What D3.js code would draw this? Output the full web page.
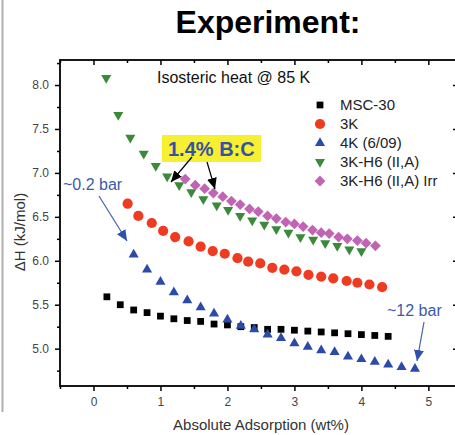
<!DOCTYPE html>
<html>
<head>
<meta charset="utf-8">
<script src="https://cdn.jsdelivr.net/npm/d3@7"></script>
<style>
  body { margin: 0; background: #fff; }
  text { font-family: "Liberation Sans", Arial, sans-serif; }
</style>
</head>
<body>
<script>
// series values (x = wt%, y = kJ/mol)
const msc30X = [0.2, 0.4, 0.6, 0.8, 1.0, 1.2, 1.4, 1.6, 1.8, 2.0, 2.2, 2.4, 2.6, 2.8, 3.0, 3.2, 3.4, 3.6, 3.8, 4.0, 4.2, 4.4];
const msc30Y = [5.59, 5.50, 5.44, 5.41, 5.37, 5.34, 5.32, 5.31, 5.28, 5.27, 5.25, 5.24, 5.22, 5.22, 5.21, 5.20, 5.19, 5.18, 5.17, 5.16, 5.15, 5.14];

const k3X = [0.51, 0.67, 0.87, 1.04, 1.22, 1.42, 1.60, 1.78, 1.96, 2.15, 2.31, 2.49, 2.67, 2.85, 3.03, 3.21, 3.40, 3.58, 3.78, 3.94, 4.12, 4.31];
const k3Y = [6.65, 6.51, 6.43, 6.34, 6.27, 6.22, 6.16, 6.11, 6.08, 6.03, 5.99, 5.97, 5.92, 5.90, 5.88, 5.84, 5.82, 5.80, 5.77, 5.75, 5.73, 5.70];

const k4X = [0.6, 0.8, 1.0, 1.2, 1.4, 1.6, 1.8, 2.0, 2.2, 2.4, 2.6, 2.8, 3.0, 3.2, 3.4, 3.6, 3.8, 4.0, 4.2, 4.4, 4.6, 4.8];
const k4Y = [6.07, 5.90, 5.76, 5.64, 5.55, 5.47, 5.40, 5.33, 5.26, 5.22, 5.16, 5.12, 5.06, 5.02, 4.98, 4.96, 4.91, 4.88, 4.85, 4.82, 4.79, 4.77];

const h6X = [0.19, 0.37, 0.55, 0.75, 0.93, 1.10, 1.28, 1.46, 1.64, 1.84, 2.01, 2.19, 2.37, 2.55, 2.73, 2.91, 3.09, 3.28, 3.46, 3.64, 3.82, 4.00];
const h6Y = [8.08, 7.66, 7.40, 7.22, 7.08, 6.96, 6.86, 6.78, 6.70, 6.63, 6.58, 6.51, 6.46, 6.41, 6.36, 6.32, 6.27, 6.24, 6.20, 6.17, 6.13, 6.11];

const irrX = [1.37, 1.52, 1.66, 1.79, 1.93, 2.06, 2.19, 2.33, 2.46, 2.60, 2.73, 2.87, 3.00, 3.13, 3.27, 3.40, 3.52, 3.66, 3.79, 3.94, 4.07, 4.21];
const irrY = [6.93, 6.86, 6.82, 6.77, 6.73, 6.68, 6.64, 6.59, 6.56, 6.51, 6.48, 6.44, 6.42, 6.39, 6.35, 6.32, 6.31, 6.27, 6.25, 6.23, 6.20, 6.17];

const seriesNames = ["MSC-30", "3K", "4K (6/09)", "3K-H6 (II,A)", "3K-H6 (II,A) Irr"];
const xTicks = [0, 1, 2, 3, 4, 5];
const yTicks = [5.0, 5.5, 6.0, 6.5, 7.0, 7.5, 8.0];

const svgWidth = 455;
const svgHeight = 435;

const svg = d3.select("body")
    .append("svg")
    .attr("width", svgWidth)
    .attr("height", svgHeight);

// slide edge on the left
svg.append("line")
    .attr("x1", 2.5).attr("x2", 2.5)
    .attr("y1", 0).attr("y2", 412)
    .attr("stroke", "#b0b0b0")
    .attr("stroke-width", 2);

// scales
const x = d3.scaleLinear().domain([-0.5, 5.45]).range([60, 458.5]);
const y = d3.scaleLinear().domain([4.575, 8.285]).range([386, 60]);

const xMinor = d3.range(-0.5, 5.5, 0.5).filter(v => xTicks.indexOf(v) < 0);
const yMinor = d3.range(4.75, 8.3, 0.5);

function styleAxis(g) {
    g.select(".domain").remove();
    g.selectAll("line").attr("stroke", "#000").attr("stroke-width", 1.5);
    g.selectAll("text")
        .attr("fill", "#444")
        .attr("font-size", "12px")
        .attr("font-family", "Liberation Sans, Arial, sans-serif");
}

// bottom axis
svg.append("g")
    .attr("transform", "translate(0,386)")
    .call(d3.axisBottom(x).tickValues(xTicks).tickSize(5).tickPadding(6).tickFormat(d3.format("d")))
    .call(styleAxis);
svg.append("g")
    .attr("transform", "translate(0,386)")
    .call(d3.axisBottom(x).tickValues(xMinor).tickSize(3).tickFormat(""))
    .call(styleAxis);

// top axis (inward ticks)
svg.append("g")
    .attr("transform", "translate(0,60)")
    .call(d3.axisTop(x).tickValues(xTicks).tickSize(-5).tickFormat(""))
    .call(styleAxis);
svg.append("g")
    .attr("transform", "translate(0,60)")
    .call(d3.axisTop(x).tickValues(xMinor).tickSize(-3).tickFormat(""))
    .call(styleAxis);

// left axis
svg.append("g")
    .attr("transform", "translate(60,0)")
    .call(d3.axisLeft(y).tickValues(yTicks).tickSize(5).tickPadding(6).tickFormat(d3.format(".1f")))
    .call(styleAxis);
svg.append("g")
    .attr("transform", "translate(60,0)")
    .call(d3.axisLeft(y).tickValues(yMinor).tickSize(3).tickFormat(""))
    .call(styleAxis);

// right axis (inward ticks)
svg.append("g")
    .attr("transform", "translate(458,0)")
    .call(d3.axisRight(y).tickValues(yTicks).tickSize(-5).tickFormat(""))
    .call(styleAxis);

// frame
svg.append("rect")
    .attr("x", 60).attr("y", 60)
    .attr("width", 398).attr("height", 326)
    .attr("fill", "none")
    .attr("stroke", "#000")
    .attr("stroke-width", 1.8);

// series
const series = [
    { xs: msc30X, ys: msc30Y, color: "#000000", symbol: d3.symbolSquare, size: 46, rot: 0 },
    { xs: k3X, ys: k3Y, color: "#ee3b22", symbol: d3.symbolCircle, size: 82, rot: 0 },
    { xs: k4X, ys: k4Y, color: "#2b4aa9", symbol: d3.symbolTriangle, size: 44, rot: 0 },
    { xs: h6X, ys: h6Y, color: "#3a8a3a", symbol: d3.symbolTriangle, size: 44, rot: 180 },
    { xs: irrX, ys: irrY, color: "#c164b4", symbol: d3.symbolSquare, size: 58, rot: 45 }
];

series.forEach(function (s) {
    const pts = s.xs.map((v, i) => ({ x: v, y: s.ys[i] }));
    svg.append("g")
        .selectAll("path")
        .data(pts)
        .enter()
        .append("path")
        .attr("d", d3.symbol().type(s.symbol).size(s.size))
        .attr("transform", d => `translate(${x(d.x)},${y(d.y)}) rotate(${s.rot})`)
        .attr("fill", s.color);
});

// legend
const legend = svg.append("g").attr("transform", "translate(320,105)");
seriesNames.forEach(function (name, i) {
    const s = series[i];
    legend.append("path")
        .attr("d", d3.symbol().type(s.symbol).size(s.size))
        .attr("transform", `translate(0,${i * 19}) rotate(${s.rot})`)
        .attr("fill", s.color);
    legend.append("text")
        .attr("x", 20)
        .attr("y", i * 19)
        .attr("dy", "0.36em")
        .attr("font-size", "15px")
        .attr("fill", "#222")
        .text(name);
});

// titles
svg.append("text")
    .attr("x", 268).attr("y", 33)
    .attr("text-anchor", "middle")
    .attr("font-size", "32px")
    .attr("font-weight", "bold")
    .attr("fill", "#000")
    .text("Experiment:");

svg.append("text")
    .attr("x", 157).attr("y", 83)
    .attr("font-size", "16px")
    .attr("fill", "#111")
    .text("Isosteric heat @ 85 K");

// axis labels
svg.append("text")
    .attr("x", 261).attr("y", 430)
    .attr("text-anchor", "middle")
    .attr("font-size", "15px")
    .attr("fill", "#333")
    .text("Absolute Adsorption (wt%)");

svg.append("text")
    .attr("transform", "translate(25,232) rotate(-90)")
    .attr("text-anchor", "middle")
    .attr("font-size", "15px")
    .attr("fill", "#333")
    .text("ΔH (kJ/mol)");

// arrow heads
const defs = svg.append("defs");
[["headBlack", "#000"], ["headBlue", "#2f50ad"]].forEach(function (m) {
    defs.append("marker")
        .attr("id", m[0])
        .attr("markerUnits", "userSpaceOnUse")
        .attr("markerWidth", 12).attr("markerHeight", 10)
        .attr("refX", 11).attr("refY", 5)
        .attr("orient", "auto")
        .append("path")
        .attr("d", "M0,0 L11,5 L0,10 Z")
        .attr("fill", m[1]);
});

function arrow(x1, y1, x2, y2, color, head) {
    svg.append("line")
        .attr("x1", x1).attr("y1", y1)
        .attr("x2", x2).attr("y2", y2)
        .attr("stroke", color)
        .attr("stroke-width", 1.2)
        .attr("marker-end", `url(#${head})`);
}

// annotations
svg.append("rect")
    .attr("x", 162).attr("y", 135)
    .attr("width", 99).attr("height", 27)
    .attr("fill", "#f7f032");
svg.append("text")
    .attr("x", 168).attr("y", 156)
    .attr("font-size", "20px")
    .attr("font-weight", "bold")
    .attr("fill", "#3551a8")
    .text("1.4% B:C");

arrow(192, 157, 171, 182, "#000", "headBlack");
arrow(207, 162, 215, 189, "#000", "headBlack");

svg.append("text")
    .attr("x", 63).attr("y", 190)
    .attr("font-size", "16px")
    .attr("fill", "#3d5aaa")
    .text("~0.2 bar");
arrow(99, 196, 127, 241, "#4060b0", "headBlue");

svg.append("text")
    .attr("x", 387).attr("y", 316)
    .attr("font-size", "16px")
    .attr("fill", "#3d5aaa")
    .text("~12 bar");
arrow(424, 322, 417, 361, "#4060b0", "headBlue");
</script>
</body>
</html>
